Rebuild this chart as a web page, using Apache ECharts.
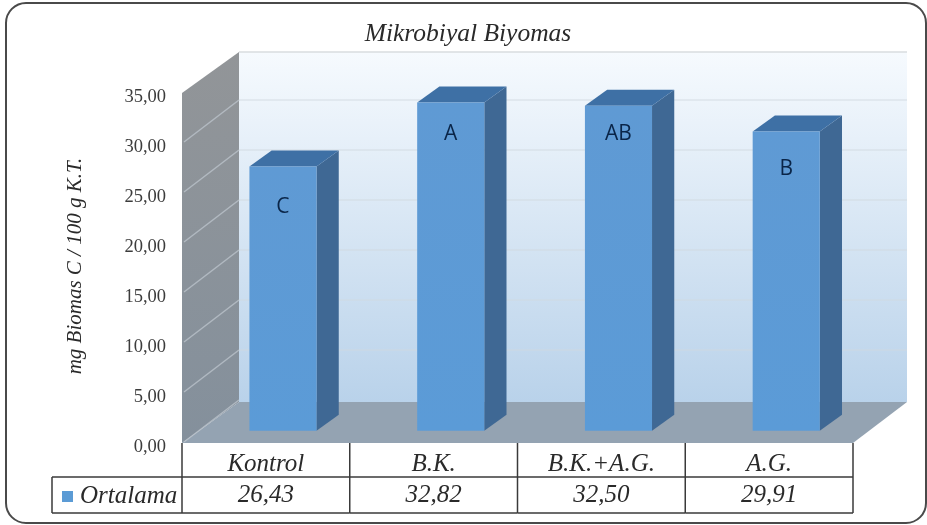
<!DOCTYPE html>
<html>
<head>
<meta charset="utf-8">
<style>html,body{margin:0;padding:0;background:#fff}#chart{width:927px;height:525px}</style>
<script src="https://cdn.jsdelivr.net/npm/echarts@6/dist/echarts.min.js"></script>
</head>
<body>
<div id="chart"></div>
<script>
// Microbial biomass means per treatment, with their significance groups
const categories = ['Kontrol', 'B.K.', 'B.K.+A.G.', 'A.G.'];
const means = [26.43, 32.82, 32.50, 29.91];
const groups = ['C', 'A', 'AB', 'B'];
const seriesName = 'Ortalama';
const axisTitle = 'mg Biomas C / 100 g K.T.';
const chartTitle = 'Mikrobiyal Biyomas';

// Oblique projection of the chart box and the bars inside it
const BOX = { dx: 57, dy: -41, rightDx: 54, gridDy: -43 };
const BAR = { near: 0.3, depth: 0.39, widthRatio: 0.4 };
const GROUP_DROP = [41, 32, 28, 37];
const TABLE = { row1: 477, row2: 513, legendLeft: 52 };
const LINE = '#3a3a3a';
const SERIF = '"Liberation Serif", serif';

const comma = v => v.toFixed(2).replace('.', ',');
const poly = (points, style) => ({ type: 'polygon', shape: { points }, style });
const seg = (x1, y1, x2, y2, stroke, lineWidth) => ({
  type: 'line', shape: { x1, y1, x2, y2 }, style: { stroke, lineWidth }
});
const vGrad = (top, bottom) => ({
  type: 'linear', x: 0, y: 0, x2: 0, y2: 1,
  colorStops: [{ offset: 0, color: top }, { offset: 1, color: bottom }]
});

// Back wall, side wall, floor and their gridlines
function renderBox(params, api) {
  const c = params.coordSys;
  const L = c.x, R = c.x + c.width, T = c.y, B = c.y + c.height;
  const { dx, dy, rightDx, gridDy } = BOX;
  const children = [
    poly([[L + dx, T + dy], [R + rightDx, T + dy], [R + rightDx, B + dy], [L + dx, B + dy]],
      { fill: vGrad('#f6fafe', '#b9d2ea') }),
    poly([[L, T], [L + dx, T + dy], [L + dx, B + dy], [L, B]],
      { fill: vGrad('#929598', '#84909c') }),
    poly([[L, B], [L + dx, B + dy], [R + rightDx, B + dy], [R, B]],
      { fill: '#94a3b2' }),
    seg(L + dx, T + dy, R + rightDx, T + dy, '#d8dcdf', 1.5)
  ];
  for (let v = 0; v <= 35; v += 5) {
    const y = api.coord([0, v])[1];
    if (v > 0 && v < 35) {
      children.push(seg(L + dx, y + gridDy, R + rightDx, y + gridDy, 'rgba(208,216,224,0.6)', 1.5));
    }
    if (v < 35) {
      children.push(seg(L + 2, y - 1, L + dx, y + gridDy, 'rgba(190,198,206,0.75)', 1.5));
    }
  }
  return { type: 'group', children };
}

// One 3D column: front, side and top faces plus its group letter
function renderBar(params, api) {
  const i = api.value(0);
  const top = api.coord([i, api.value(1)]);
  const base = api.coord([i, 0]);
  const w = api.size([1, 0])[0] * BAR.widthRatio;
  const ox = BOX.dx * BAR.near, oy = BOX.dy * BAR.near;
  const sx = BOX.dx * BAR.depth, sy = BOX.dy * BAR.depth;
  const l = top[0] + ox - w / 2, r = l + w;
  const t = top[1] + oy, b = base[1] + oy;
  return {
    type: 'group',
    children: [
      poly([[r, t], [r + sx, t + sy], [r + sx, b + sy], [r, b]], { fill: '#3f6894' }),
      poly([[l, t], [l + sx, t + sy], [r + sx, t + sy], [r, t]], { fill: '#3e70a5' }),
      poly([[l, t], [r, t], [r, b], [l, b]], { fill: vGrad('#5f9ad4', '#5b9bd7') }),
      {
        type: 'text',
        style: {
          text: groups[params.dataIndex], x: (l + r) / 2, y: t + GROUP_DROP[params.dataIndex],
          align: 'center', verticalAlign: 'middle',
          font: '500 21px "Open Sans", sans-serif', fill: '#0a2548'
        }
      }
    ]
  };
}

// Data table under the plot: cell borders and the row of means
function renderTable(params, api) {
  const i = api.value(0);
  const band = api.size([1, 0])[0];
  const p = api.coord([i, 0]);
  const l = p[0] - band / 2, r = p[0] + band / 2, t = p[1];
  const { row1, row2, legendLeft } = TABLE;
  const children = [
    seg(l, t, l, row2, LINE, 1.5),
    seg(l, row1, r, row1, LINE, 1.5),
    seg(l, row2, r, row2, LINE, 1.5),
    {
      type: 'text',
      style: {
        text: comma(api.value(1)), x: p[0], y: (row1 + row2) / 2,
        align: 'center', verticalAlign: 'middle',
        font: 'italic 25px ' + SERIF, fill: '#2a2a2a'
      }
    }
  ];
  if (i === categories.length - 1) children.push(seg(r, t, r, row2, LINE, 1.5));
  if (i === 0) {
    children.push(seg(legendLeft, row1, l, row1, LINE, 1.5));
    children.push(seg(legendLeft, row2, l, row2, LINE, 1.5));
    children.push(seg(legendLeft, row1, legendLeft, row2, LINE, 1.5));
  }
  return { type: 'group', children };
}

const rows = categories.map((c, i) => [c, means[i]]);
const chart = echarts.init(document.getElementById('chart'), null, { renderer: 'canvas' });
chart.setOption({
  animation: false,
  backgroundColor: '#fff',
  title: {
    text: chartTitle, left: 463, top: 16, textAlign: 'center',
    textStyle: { fontFamily: SERIF, fontStyle: 'italic', fontWeight: 'normal', fontSize: 25.5, color: '#2a2a2a' }
  },
  legend: {
    data: [seriesName], left: 62, top: 484, itemWidth: 11, itemHeight: 11, icon: 'rect',
    selectedMode: false, padding: 0,
    textStyle: { fontFamily: SERIF, fontStyle: 'italic', fontSize: 25, color: '#2a2a2a', padding: [0, 0, 0, 2] }
  },
  grid: { left: 182, top: 93, width: 671, height: 350 },
  xAxis: {
    type: 'category', data: categories,
    axisLine: { show: false }, axisTick: { show: false },
    axisLabel: { margin: 9, fontFamily: SERIF, fontStyle: 'italic', fontSize: 25, color: '#2a2a2a' }
  },
  yAxis: {
    type: 'value', min: 0, max: 35, interval: 5,
    axisLine: { show: false }, axisTick: { show: false }, splitLine: { show: false },
    axisLabel: { margin: 16, verticalAlign: 'top', lineHeight: 8, formatter: comma, fontFamily: SERIF, fontSize: 18.5, color: '#3c3c3c' },
    name: axisTitle, nameLocation: 'middle', nameGap: 96, nameRotate: 90,
    nameTextStyle: { fontFamily: SERIF, fontStyle: 'italic', fontSize: 21, color: '#2a2a2a', padding: [0, 0, 0, 4] }
  },
  graphic: [{
    type: 'rect', silent: true, z: 100,
    shape: { x: 6, y: 3, width: 920, height: 520, r: 20 },
    style: { fill: 'none', stroke: '#4a4a4a', lineWidth: 2 }
  }],
  series: [
    { type: 'custom', name: 'box', z: 1, silent: true, data: [rows[0]], encode: { x: 0, y: 1 }, renderItem: renderBox, clip: false },
    { type: 'custom', name: seriesName, z: 2, itemStyle: { color: '#5b9bd5' }, data: rows, encode: { x: 0, y: 1 }, renderItem: renderBar, clip: false },
    { type: 'custom', name: 'table', z: 3, silent: true, data: rows, encode: { x: 0, y: 1 }, renderItem: renderTable, clip: false }
  ]
});
</script>
</body>
</html>
